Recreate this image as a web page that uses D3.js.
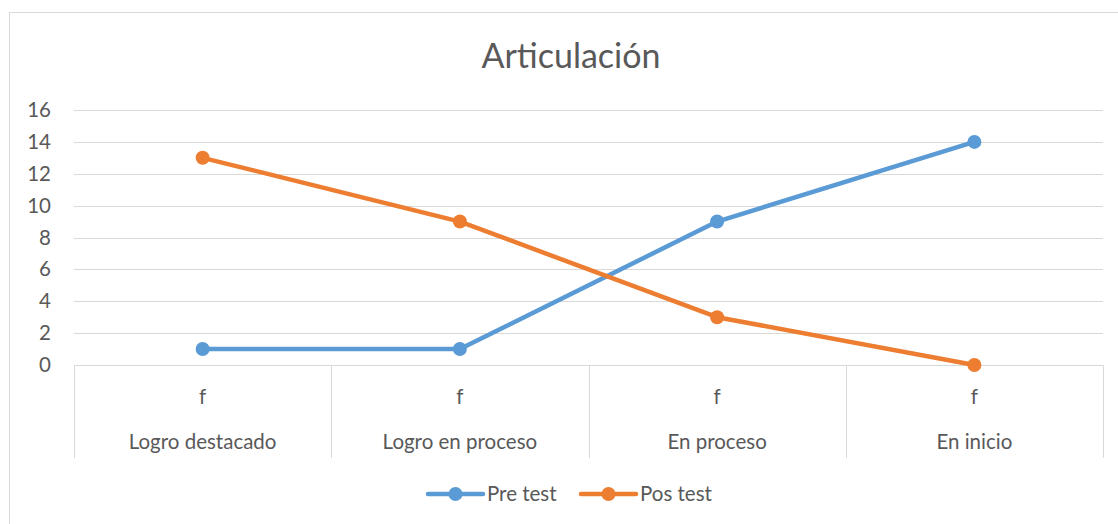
<!DOCTYPE html>
<html>
<head>
<meta charset="utf-8">
<script src="https://cdn.jsdelivr.net/npm/d3@7"></script>
<style>
  body { margin: 0; background: #fff; }
  text { font-family: Lato, "Open Sans", sans-serif; fill: #595959; }
</style>
</head>
<body>
<svg id="chart" width="1118" height="524"></svg>
<script>
var categories = ['Logro destacado', 'Logro en proceso', 'En proceso', 'En inicio'];
var subLabels = ['f', 'f', 'f', 'f'];
var preTest = [1, 1, 9, 14];
var posTest = [13, 9, 3, 0];
var yTicks = [0, 2, 4, 6, 8, 10, 12, 14, 16];

var series = [
  { name: 'Pre test', values: preTest, color: '#5b9bd5' },
  { name: 'Pos test', values: posTest, color: '#ed7d31' }
];

var svg = d3.select('#chart');
var plotLeft = 74, plotRight = 1103, plotTop = 110, plotBottom = 365;
var fontSize = '20.5px';

svg.append('rect')
  .attr('x', 9.5).attr('y', 12.5).attr('width', 1120).attr('height', 520)
  .style('fill', 'none').style('stroke', '#d9d9d9');

svg.append('text')
  .attr('x', 571).attr('y', 68)
  .attr('text-anchor', 'middle')
  .style('font-size', '34px')
  .text('Articulación');

var x = d3.scaleBand().domain(categories).range([plotLeft, plotRight]);
var y = d3.scaleLinear().domain([0, 16]).range([plotBottom, plotTop]);

// gridlines
svg.append('g').selectAll('line').data(yTicks.slice(1)).enter().append('line')
  .attr('x1', plotLeft).attr('x2', plotRight)
  .attr('y1', function(d) { return Math.round(y(d)) + 0.5; })
  .attr('y2', function(d) { return Math.round(y(d)) + 0.5; })
  .style('stroke', '#d9d9d9').style('stroke-width', 1);

// y axis labels
var yAxis = d3.axisLeft(y).tickValues(yTicks).tickSize(0).tickPadding(0);
var yg = svg.append('g').attr('transform', 'translate(51,0)').call(yAxis);
yg.select('.domain').remove();
yg.selectAll('text').style('font-size', fontSize).style('fill', '#595959')
  .style('font-family', 'Lato, "Open Sans", sans-serif');

// category axis (two levels)
var ax = svg.append('g');
ax.append('line')
  .attr('x1', plotLeft).attr('x2', plotRight)
  .attr('y1', plotBottom + 0.5).attr('y2', plotBottom + 0.5)
  .style('stroke', '#d9d9d9');
var bounds = categories.map(function(c) { return x(c); }).concat([plotRight]);
ax.selectAll('line.sep').data(bounds).enter().append('line')
  .attr('class', 'sep')
  .attr('x1', function(d) { return Math.round(d) + 0.5; })
  .attr('x2', function(d) { return Math.round(d) + 0.5; })
  .attr('y1', plotBottom).attr('y2', 458)
  .style('stroke', '#d9d9d9');
ax.selectAll('text.sub').data(subLabels).enter().append('text')
  .attr('class', 'sub')
  .attr('x', function(d, i) { return x(categories[i]) + x.bandwidth() / 2; })
  .attr('y', 404)
  .attr('text-anchor', 'middle')
  .style('font-size', fontSize)
  .text(function(d) { return d; });
ax.selectAll('text.cat').data(categories).enter().append('text')
  .attr('class', 'cat')
  .attr('x', function(d) { return x(d) + x.bandwidth() / 2; })
  .attr('y', 449)
  .attr('text-anchor', 'middle')
  .style('font-size', fontSize)
  .text(function(d) { return d; });

// lines
var line = d3.line()
  .x(function(d, i) { return x(categories[i]) + x.bandwidth() / 2; })
  .y(function(d) { return y(d); });

series.forEach(function(s) {
  var g = svg.append('g');
  g.append('path').datum(s.values)
    .attr('d', line)
    .style('fill', 'none').style('stroke', s.color)
    .style('stroke-width', 4.5).style('stroke-linejoin', 'round');
  g.selectAll('circle').data(s.values).enter().append('circle')
    .attr('cx', function(d, i) { return x(categories[i]) + x.bandwidth() / 2; })
    .attr('cy', function(d) { return y(d); })
    .attr('r', 7)
    .style('fill', s.color);
});

// legend
var legendX = [428, 581];
var lg = svg.append('g').selectAll('g').data(series).enter().append('g')
  .attr('transform', function(d, i) { return 'translate(' + legendX[i] + ',494)'; });
lg.append('line')
  .attr('x1', 0).attr('x2', 55).attr('y1', 0).attr('y2', 0)
  .style('stroke', function(d) { return d.color; })
  .style('stroke-width', 4.5).style('stroke-linecap', 'round');
lg.append('circle')
  .attr('cx', 27.5).attr('cy', 0).attr('r', 7)
  .style('fill', function(d) { return d.color; });
lg.append('text')
  .attr('x', 59).attr('y', 7)
  .style('font-size', fontSize)
  .text(function(d) { return d.name; });
</script>
</body>
</html>
